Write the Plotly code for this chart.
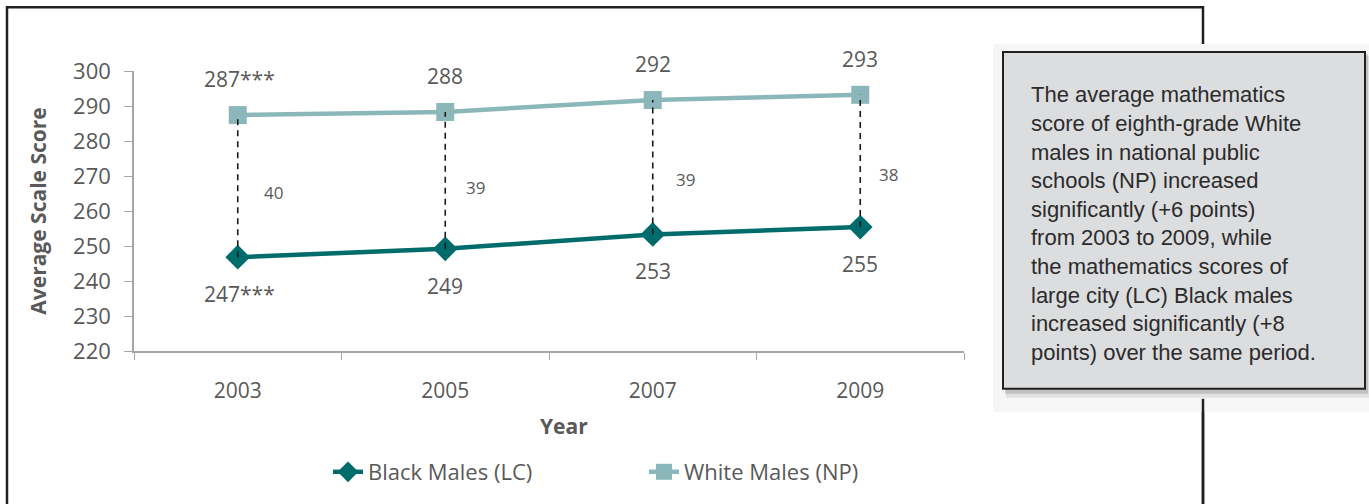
import plotly.graph_objects as go

years = ["2003", "2005", "2007", "2009"]
black_males_lc = [246.8, 249.2, 253.3, 255.4]
white_males_np = [287.4, 288.3, 291.7, 293.2]
black_labels = ["247***", "249", "253", "255"]
white_labels = ["287***", "288", "292", "293"]
gap_labels = ["40", "39", "39", "38"]
y_ticks = [220, 230, 240, 250, 260, 270, 280, 290, 300]

note_lines = [
    "The average mathematics",
    "score of eighth-grade White",
    "males in national public",
    "schools (NP) increased",
    "significantly (+6 points)",
    "from 2003 to 2009, while",
    "the mathematics scores of",
    "large city (LC) Black males",
    "increased significantly (+8",
    "points) over the same period.",
]

DARK = "#006b6b"
LIGHT = "#8bb7bb"
TXT = "#595959"
AX = "#a6a6a6"
FONT = "Open Sans"

W, H = 1369, 504
L, R, T, B = 134, 405, 71, 152
PW, PH = W - L - R, H - T - B


def px(xp):
    return (xp - L) / PW


def py(yp):
    return 1 - (yp - T) / PH


fig = go.Figure()

fig.add_trace(go.Scatter(
    x=years, y=black_males_lc, name="Black Males (LC)", mode="lines+markers",
    line=dict(color=DARK, width=4.5),
    marker=dict(symbol="diamond", size=19, color=DARK),
    legend="legend",
))
fig.add_trace(go.Scatter(
    x=years, y=white_males_np, name="White Males (NP)", mode="lines+markers",
    line=dict(color=LIGHT, width=4.5),
    marker=dict(symbol="square", size=18, color=LIGHT),
    legend="legend2",
))
for i, yr in enumerate(years):
    fig.add_trace(go.Scatter(
        x=[yr, yr], y=[black_males_lc[i], white_males_np[i]], mode="lines",
        line=dict(color="#1a1a1a", width=1.6, dash="6px,5px"),
        showlegend=False, hoverinfo="skip",
    ))

gap_xshift = [36, 30, 33, 28]
gap_yshift = [-6, -7, -12, -14]
ann = []
for i, yr in enumerate(years):
    ann.append(dict(x=i, y=white_males_np[i], text=white_labels[i], showarrow=False,
                    yshift=36, xshift=2 if i == 0 else 0,
                    font=dict(family=FONT, size=21, color=TXT)))
    ann.append(dict(x=i, y=black_males_lc[i], text=black_labels[i], showarrow=False,
                    yshift=-37, xshift=2 if i == 0 else 0,
                    font=dict(family=FONT, size=21, color=TXT)))
    mid = (black_males_lc[i] + white_males_np[i]) / 2
    ann.append(dict(x=i, y=mid, text=gap_labels[i], showarrow=False,
                    xshift=gap_xshift[i], yshift=gap_yshift[i],
                    font=dict(family=FONT, size=17, color=TXT)))

# x-axis title
ann.append(dict(xref="paper", yref="paper", x=px(564), y=py(427), text="<b>Year</b>",
                showarrow=False, xanchor="center", yanchor="middle",
                font=dict(family=FONT, size=21, color=TXT)))

# note box text
y0 = 95
for k, line in enumerate(note_lines):
    ann.append(dict(xref="paper", yref="paper", x=px(1029), y=py(y0 + k * 28.7),
                    xanchor="left", yanchor="middle", text=line, showarrow=False,
                    font=dict(family="Liberation Sans", size=22, color="#2b2b2b")))

shapes = [
    dict(type="rect", xref="paper", yref="paper", x0=px(7), x1=px(1203), y0=py(540), y1=py(7),
         line=dict(color="#231f20", width=2.5), fillcolor="rgba(0,0,0,0)", layer="below"),
    dict(type="rect", xref="paper", yref="paper", x0=px(993), x1=px(1369), y0=py(413), y1=py(44),
         line=dict(width=0), fillcolor="#f6f6f6", layer="above"),
    dict(type="rect", xref="paper", yref="paper", x0=px(1006), x1=px(1369), y0=py(399), y1=py(56),
         line=dict(width=0), fillcolor="rgba(0,0,0,0.08)", layer="above"),
    dict(type="rect", xref="paper", yref="paper", x0=px(1005), x1=px(1368), y0=py(395), y1=py(54),
         line=dict(width=0), fillcolor="rgba(0,0,0,0.15)", layer="above"),
    dict(type="rect", xref="paper", yref="paper", x0=px(1003), x1=px(1365), y0=py(390), y1=py(52),
         line=dict(color="#231f20", width=2), fillcolor="#dcdddf", layer="above"),
    dict(type="line", xref="paper", yref="paper", x0=px(1203), x1=px(1203), y0=py(400), y1=py(510),
         line=dict(color="#231f20", width=2.5), layer="above"),
]

fig.update_layout(
    width=W, height=H,
    margin=dict(l=L, r=R, t=T, b=B),
    paper_bgcolor="white", plot_bgcolor="white",
    font=dict(family=FONT, color=TXT),
    annotations=ann, shapes=shapes,
    legend=dict(orientation="h", x=px(328), y=py(472), xanchor="left", yanchor="middle",
                font=dict(family=FONT, size=22, color=TXT), bgcolor="rgba(0,0,0,0)"),
    legend2=dict(orientation="h", x=px(644), y=py(472), xanchor="left", yanchor="middle",
                 font=dict(family=FONT, size=22, color=TXT), bgcolor="rgba(0,0,0,0)"),
    xaxis=dict(type="category", categoryorder="array", categoryarray=years,
               range=[-0.5, 3.5], tickson="boundaries", ticks="outside", ticklen=7,
               tickcolor=AX, showline=True, linecolor=AX, linewidth=1.5, showgrid=False,
               zeroline=False, tickfont=dict(size=21, color=TXT), ticklabelstandoff=20),
    yaxis=dict(range=[220, 300], tickvals=y_ticks, ticks="outside", ticklen=8,
               tickcolor=AX, showline=True, linecolor=AX, linewidth=1.5, showgrid=False,
               zeroline=False, tickfont=dict(size=22, color=TXT), ticklabelstandoff=9,
               title=dict(text="<b>Average Scale Score</b>", font=dict(size=21, color=TXT), standoff=21)),
)

fig.write_html("out.html", config={"displayModeBar": False},
               post_script="document.body.style.margin='0';document.body.style.overflow='hidden';")
